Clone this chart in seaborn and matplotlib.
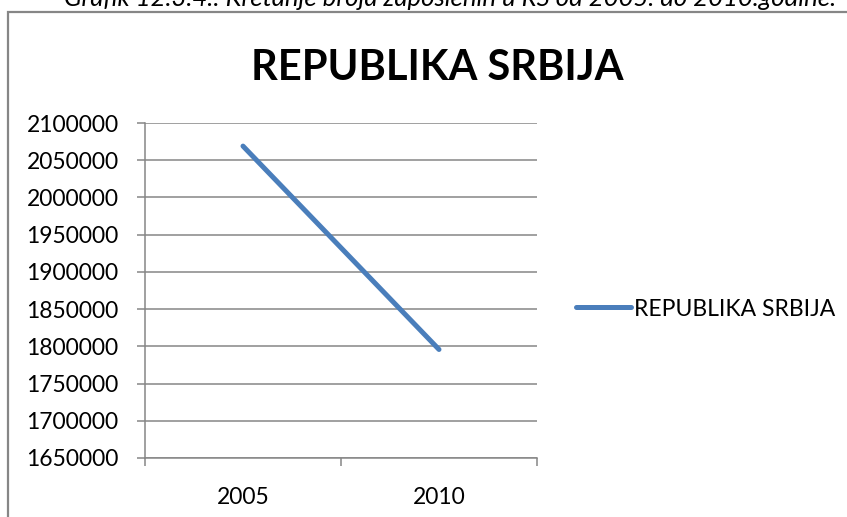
import matplotlib

matplotlib.use("Agg")
import matplotlib.pyplot as plt
import pandas as pd
import seaborn as sns
from matplotlib.patches import Rectangle

# data
years = ["2005", "2010"]
employed = [2068964, 1795775]
series_name = "REPUBLIKA SRBIJA"
y_ticks = [1650000, 1700000, 1750000, 1800000, 1850000,
           1900000, 1950000, 2000000, 2050000, 2100000]
caption = "Grafik 12.3.4.: Kretanje broja zaposlenih u RS od 2005. do 2010.godine."

W, H = 847, 517
GRID = "#868686"
LINE = "#4A7EBB"

sns.set_theme(style="white")
plt.rcParams["font.family"] = ["Lato", "DejaVu Sans"]
plt.rcParams["text.color"] = "black"

df = pd.DataFrame({"Year": years, "Employed": employed, "Series": series_name})

fig = plt.figure(figsize=(W / 100, H / 100), dpi=100)
ax = fig.add_axes([145 / W, 1 - 458 / H, 392 / W, 335 / H])

sns.lineplot(data=df, x="Year", y="Employed", hue="Series",
             palette=[LINE], lw=3.6, ax=ax, solid_capstyle="round")

ax.set_xlim(-0.5, 1.5)
ax.set_ylim(y_ticks[0], y_ticks[-1])
ax.set_yticks(y_ticks)
ax.set_yticklabels([str(v) for v in y_ticks])
ax.set_xticks([0, 1])
ax.set_xticklabels(years)
ax.set_xticks([-0.5, 0.5, 1.5], minor=True)
ax.set_xlabel("")
ax.set_ylabel("")

ax.yaxis.grid(True, color=GRID, lw=1.1)
ax.xaxis.grid(False)
for side in ["top", "right"]:
    ax.spines[side].set_visible(False)
for side in ["left", "bottom"]:
    ax.spines[side].set_color(GRID)
    ax.spines[side].set_linewidth(1.1)

ax.tick_params(axis="y", which="major", length=6, width=1.1, color=GRID,
               pad=13, labelsize=16.5, labelcolor="black", left=True)
ax.tick_params(axis="x", which="major", length=0, pad=21, labelsize=16.5,
               labelcolor="black")
ax.tick_params(axis="x", which="minor", length=6, width=1.1, color=GRID,
               bottom=True, direction="out")

leg = ax.legend(loc="center left", bbox_to_anchor=(576 / W, 1 - 309 / H),
                bbox_transform=fig.transFigure, frameon=False, fontsize=16.5,
                handlelength=2.4, handletextpad=0.15, borderpad=0,
                borderaxespad=0)
for t in leg.get_texts():
    t.set_color("black")

# chart frame, title and the half-cut caption above the frame
fig.patches.append(Rectangle((8 / W, -0.1), 1.2, 1 - 12 / H + 0.1,
                             transform=fig.transFigure, fill=False,
                             edgecolor=GRID, lw=1.6))
fig.text(437 / W, 1 - 68 / H, series_name, ha="center", va="center",
         fontsize=30, fontweight="bold", color="black")
fig.text(450 / W, 1 - 6 / H, caption, ha="center", va="baseline",
         fontsize=18.5, style="italic", color="black")

fig.savefig("out.png", dpi=100)
